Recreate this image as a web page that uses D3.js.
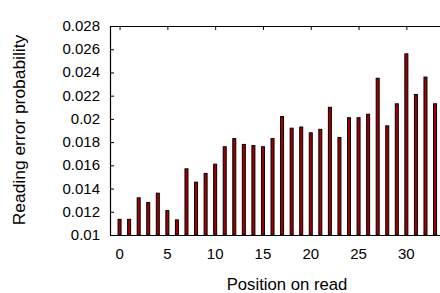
<!DOCTYPE html>
<html>
<head>
<meta charset="utf-8">
<script src="https://cdn.jsdelivr.net/npm/d3@7"></script>
<style>
  html, body { margin: 0; padding: 0; background: #fff; overflow: hidden; }
  text { font-family: "Liberation Sans", Arial, sans-serif; fill: #000; }
</style>
</head>
<body>
<div id="chart"></div>
<script>
"use strict";

// position on read, 0..33
const positions = d3.range(0, 34);
// reading error probability per position
const errorProb = [
  0.01135, 0.01135, 0.0132, 0.0128, 0.0136, 0.0121, 0.0113, 0.0157,
  0.01455, 0.0153, 0.0161, 0.0176, 0.0183, 0.0178, 0.0177, 0.0176,
  0.0183, 0.0202, 0.0192, 0.0193, 0.0188, 0.0191, 0.0210, 0.0184,
  0.0201, 0.0201, 0.0204, 0.0235, 0.0194, 0.0213, 0.0256, 0.0221,
  0.0236, 0.0213
];
const yTicks = [0.01, 0.012, 0.014, 0.016, 0.018, 0.02, 0.022, 0.024, 0.026, 0.028];
const xTicks = [0, 5, 10, 15, 20, 25, 30];

const width = 440, height = 293;
const plotLeft = 110, plotTop = 26, plotBottom = 235;

const svg = d3.select("#chart").append("svg")
  .attr("width", width)
  .attr("height", height);

const x = d3.scaleLinear().domain([-1, 34]).range([plotLeft, plotLeft + 35 * 9.56]);
const y = d3.scaleLinear().domain([0.01, 0.028]).range([plotBottom, plotTop]);

// bars
svg.append("g").selectAll("rect")
  .data(positions)
  .enter()
  .append("rect")
  .attr("x", d => x(d) - 1.5)
  .attr("y", d => y(errorProb[d]))
  .attr("width", 3)
  .attr("height", d => plotBottom - y(errorProb[d]))
  .attr("fill", "#a00000")
  .attr("stroke", "#000")
  .attr("stroke-width", 1);

// left axis, ticks pointing inward
const yAxis = svg.append("g")
  .attr("transform", "translate(" + plotLeft + ",0)")
  .call(d3.axisRight(y).tickValues(yTicks).tickSize(4).tickFormat(""));
yAxis.select(".domain").remove();

svg.append("g").selectAll("text")
  .data(yTicks)
  .enter()
  .append("text")
  .attr("x", plotLeft - 10)
  .attr("y", d => y(d) + 5)
  .attr("text-anchor", "end")
  .style("font-size", "15px")
  .text(d => String(+d.toFixed(3)));

// top axis, ticks pointing inward
const topAxis = svg.append("g")
  .attr("transform", "translate(0," + plotTop + ")")
  .call(d3.axisBottom(x).tickValues(xTicks).tickSize(4).tickFormat(""));
topAxis.select(".domain").remove();

// bottom tick labels
svg.append("g").selectAll("text")
  .data(xTicks)
  .enter()
  .append("text")
  .attr("x", d => x(d))
  .attr("y", 259)
  .attr("text-anchor", "middle")
  .style("font-size", "15px")
  .text(d => d);

// frame
svg.append("path")
  .attr("d", "M" + width + "," + (plotTop + 0.5) + "H" + (plotLeft + 0.5) + "V" + (plotBottom + 0.5) + "H" + width)
  .attr("fill", "none")
  .attr("stroke", "#000")
  .attr("stroke-width", 1.2);

svg.selectAll(".tick line").attr("stroke", "#000");

// axis titles
svg.append("text")
  .attr("x", 287)
  .attr("y", 290)
  .attr("text-anchor", "middle")
  .style("font-size", "16.7px")
  .text("Position on read");

svg.append("text")
  .attr("transform", "translate(25,130) rotate(-90)")
  .attr("text-anchor", "middle")
  .style("font-size", "17.4px")
  .text("Reading error probability");
</script>
</body>
</html>
